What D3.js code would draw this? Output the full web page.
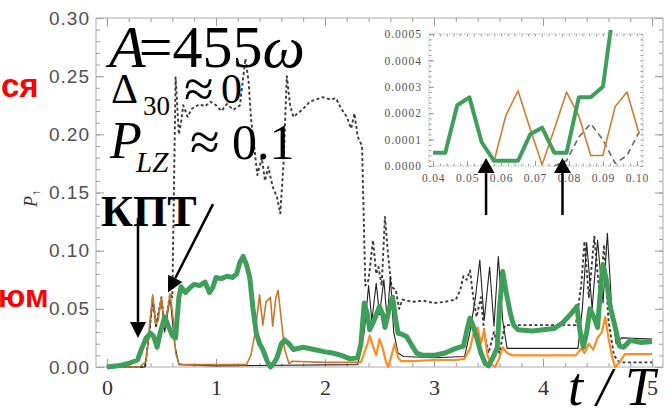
<!DOCTYPE html>
<html>
<head>
<meta charset="utf-8">
<script src="https://cdn.jsdelivr.net/npm/d3@7"></script>
<style>
  body { margin: 0; background: #fff; }
  svg { display: block; }
  .tk line { stroke: #9a9a9a; }
  .tk path { display: none; }
</style>
</head>
<body>
<svg id="chart" width="672" height="408"></svg>
<script>
// ---- main panel, [t/T, P] ----
const greenMain = [
  [0,0],[0.1,0.001],[0.2,0.003],[0.28,0.006],[0.32,0.016],[0.36,0.025],[0.4,0.029],[0.43,0.026],
  [0.46,0.017],[0.49,0.03],[0.53,0.043],[0.56,0.036],[0.6,0.027],[0.63,0.025],[0.66,0.06],[0.68,0.069],
  [0.72,0.064],[0.76,0.068],[0.8,0.071],[0.85,0.07],[0.9,0.073],[0.94,0.064],[0.97,0.068],[1.0,0.077],
  [1.05,0.076],[1.1,0.078],[1.15,0.077],[1.19,0.08],[1.22,0.09],[1.25,0.095],[1.28,0.088],[1.31,0.077],
  [1.34,0.05],[1.37,0.029],[1.4,0.02],[1.43,0.015],[1.47,0.005],[1.5,0.0],[1.53,0.003],[1.56,0.008],
  [1.6,0.02],[1.63,0.023],[1.67,0.02],[1.71,0.015],[1.8,0.017],[1.9,0.015],[2.0,0.013],[2.07,0.012],
  [2.15,0.01],[2.23,0.007],[2.3,0.008],[2.33,0.02],[2.36,0.055],[2.39,0.045],[2.41,0.032],[2.45,0.04],
  [2.5,0.052],[2.53,0.045],[2.55,0.034],[2.59,0.05],[2.62,0.06],[2.65,0.04],[2.67,0.029],[2.71,0.028],
  [2.75,0.026],[2.8,0.018],[2.84,0.012],[2.9,0.01],[3.0,0.01],[3.1,0.012],[3.2,0.016],[3.27,0.018],
  [3.31,0.035],[3.33,0.042],[3.36,0.035],[3.39,0.026],[3.43,0.012],[3.47,0.003],[3.5,0.001],[3.54,0.008],
  [3.58,0.017],[3.6,0.05],[3.63,0.082],[3.66,0.065],[3.7,0.046],[3.73,0.036],[3.77,0.032],[3.9,0.031],
  [4.0,0.032],[4.1,0.033],[4.18,0.038],[4.25,0.045],[4.31,0.052],[4.34,0.03],[4.37,0.017],[4.4,0.03],
  [4.43,0.05],[4.47,0.042],[4.5,0.034],[4.53,0.07],[4.55,0.088],[4.58,0.075],[4.62,0.05],[4.66,0.035],
  [4.7,0.018],[4.74,0.017],[4.8,0.023],[4.9,0.021],[5.0,0.022]
];
const orangeEarly = [
  [0,0],[0.3,0],[0.36,0.005],[0.39,0.035],[0.42,0.062],[0.45,0.037],[0.47,0.04],[0.5,0.06],[0.53,0.034],
  [0.55,0.045],[0.58,0.063],[0.61,0.04],[0.63,0.012],[0.66,0.003],[0.7,0.002],[1.0,0.002],[1.28,0.002],
  [1.32,0.01],[1.36,0.03],[1.4,0.062],[1.43,0.036],[1.46,0.056],[1.5,0.06],[1.52,0.035],[1.55,0.06],
  [1.57,0.066],[1.6,0.04],[1.63,0.015],[1.67,0.003],[1.7,0.005],[2.0,0.004],[2.33,0.004]
];
const orangeLate = [
  [2.33,0.004],[2.36,0.012],[2.39,0.02],[2.41,0.027],[2.44,0.018],[2.47,0.01],[2.5,0.024],[2.53,0.016],
  [2.56,0.004],[2.58,0.0],[2.61,0.01],[2.64,0.02],[2.67,0.008],[2.7,0.005],[2.8,0.005],[3.0,0.006],
  [3.2,0.006],[3.28,0.007],[3.33,0.016],[3.36,0.028],[3.4,0.034],[3.43,0.02],[3.46,0.032],[3.49,0.01],
  [3.52,0.003],[3.56,0.0],[3.6,0.008],[3.63,0.017],[3.67,0.012],[3.72,0.01],[4.0,0.01],[4.3,0.01],
  [4.35,0.016],[4.38,0.012],[4.42,0.02],[4.46,0.015],[4.5,0.025],[4.54,0.03],[4.57,0.043],[4.6,0.025],
  [4.63,0.01],[4.66,0.0],[4.7,0.004],[4.75,0.011],[5.0,0.011]
];
const blackSolid = [
  [0,0],[0.35,0],[0.39,0.03],[0.42,0.058],[0.45,0.035],[0.5,0.057],[0.53,0.03],[0.58,0.06],[0.62,0.02],
  [0.66,0.002],[1.0,0.001],[2.3,0.002],[2.36,0.03],[2.4,0.07],[2.43,0.04],[2.47,0.072],[2.5,0.045],
  [2.54,0.075],[2.57,0.04],[2.6,0.078],[2.63,0.03],[2.67,0.012],[2.72,0.009],[3.0,0.008],[3.28,0.009],
  [3.33,0.03],[3.38,0.06],[3.42,0.092],[3.46,0.04],[3.51,0.086],[3.55,0.035],[3.59,0.095],[3.63,0.04],
  [3.67,0.016],[4.0,0.016],[4.32,0.016],[4.36,0.05],[4.4,0.107],[4.45,0.05],[4.5,0.109],[4.55,0.055],
  [4.59,0.115],[4.63,0.05],[4.67,0.02],[4.72,0.025],[5.0,0.024]
];
const blackDashed = [
  [0,0],[0.35,0],[0.39,0.03],[0.42,0.06],[0.45,0.035],[0.5,0.06],[0.53,0.035],[0.58,0.063],[0.6,0.06],
  [0.63,0.249],[0.66,0.2],[0.68,0.21],[0.7,0.225],[0.74,0.215],[0.78,0.222],[0.85,0.226],[0.9,0.224],
  [0.95,0.228],[1.0,0.225],[1.05,0.22],[1.1,0.226],[1.16,0.221],[1.22,0.225],[1.27,0.265],[1.3,0.245],
  [1.32,0.215],[1.35,0.19],[1.38,0.165],[1.42,0.18],[1.45,0.16],[1.48,0.172],[1.52,0.155],[1.56,0.146],
  [1.59,0.132],[1.62,0.175],[1.65,0.25],[1.68,0.225],[1.71,0.215],[1.75,0.218],[1.8,0.222],[1.86,0.228],
  [1.92,0.23],[1.98,0.232],[2.05,0.23],[2.1,0.231],[2.15,0.222],[2.2,0.215],[2.24,0.205],[2.27,0.218],
  [2.3,0.198],[2.34,0.19],[2.37,0.07],[2.4,0.075],[2.44,0.109],[2.47,0.08],[2.49,0.086],[2.52,0.07],
  [2.55,0.129],[2.58,0.095],[2.61,0.069],[2.65,0.066],[2.68,0.05],[2.71,0.058],[2.8,0.056],[2.9,0.057],
  [3.0,0.055],[3.1,0.056],[3.2,0.058],[3.24,0.066],[3.27,0.078],[3.3,0.075],[3.33,0.083],[3.36,0.06],
  [3.39,0.043],[3.43,0.06],[3.46,0.03],[3.5,0.012],[3.55,0.03],[3.6,0.012],[3.65,0.036],[4.0,0.036],
  [4.3,0.036],[4.35,0.07],[4.38,0.108],[4.42,0.06],[4.47,0.112],[4.52,0.06],[4.56,0.105],[4.6,0.04],
  [4.65,0.01],[4.7,0.004],[5.0,0.004]
];
const xTicks = [0, 1, 2, 3, 4, 5];
const yTicks = [0, 0.05, 0.10, 0.15, 0.20, 0.25, 0.30];

// ---- inset, t/T from 0.04 to 0.10 ----
const greenInset = [
  [0.04,0.00005],[0.0436,0.00005],[0.0471,0.00023],[0.0507,0.00026],[0.0543,0.00009],[0.0579,0.00002],
  [0.0614,0.00002],[0.065,0.00002],[0.0686,0.00012],[0.0721,0.000145],[0.0757,0.00005],[0.0793,0.00005],
  [0.0829,0.00026],[0.0864,0.00026],[0.09,0.0003],[0.0936,0.00064]
];
const orangeInset = [
  [0.0579,0.000015],[0.0614,0.00019],[0.065,0.000285],[0.0686,0.00014],[0.0721,0.000005],[0.0757,0.00014],
  [0.0793,0.00028],[0.0829,0.00019],[0.0864,0.00004],[0.09,0.00004],[0.0936,0.000225],[0.0971,0.00028],
  [0.1007,0.00012]
];
const dashedInset = [
  [0.0757,0.0],[0.0793,0.00002],[0.0829,0.00011],[0.0864,0.00016],[0.09,0.0001],[0.0936,0.00001],
  [0.0971,0.00004],[0.1007,0.00013]
];
const xTicksInset = [0.04, 0.05, 0.06, 0.07, 0.08, 0.09, 0.10];
const yTicksInset = [0, 0.0001, 0.0002, 0.0003, 0.0004, 0.0005];

// arrows: [tail, tip] in data units of their panel
const arrowsMain = [[[0.285, 0.128], [0.285, 0.025]], [[0.973, 0.140], [0.56, 0.064]]];
const arrowsInset = [[[0.0556, -0.000186], [0.0556, 0.00003]], [[0.0781, -0.000186], [0.0781, 0.00003]]];

const svg = d3.select("#chart");
const serif = "'Liberation Serif', 'Times New Roman', serif";
const sans = "'Liberation Sans', Arial, sans-serif";

const x = d3.scaleLinear().domain([-0.1, 5.1]).range([96, 663]);
const y = d3.scaleLinear().domain([0, 0.3]).range([367, 18]);

function draw_ticks(g, axis, values, size, tf) {
  g.call(axis.tickValues(values).tickSize(-size).tickFormat(tf || ""))
}

function draw_main_axes() {
  let ax = svg.append("g");
  draw_ticks(ax.append("g").attr("class", "tk").attr("transform", "translate(0,367)"),
    d3.axisBottom(x), d3.range(0, 5.01, 0.2), 4);
  draw_ticks(ax.append("g").attr("class", "tk").attr("transform", "translate(0,18)"),
    d3.axisTop(x), d3.range(0, 5.01, 0.2), 4);
  draw_ticks(ax.append("g").attr("class", "tk").attr("transform", "translate(0,18)"),
    d3.axisTop(x), xTicks, 8);
  draw_ticks(ax.append("g").attr("class", "tk").attr("transform", "translate(96,0)"),
    d3.axisLeft(y), d3.range(0, 0.301, 0.01), 4);
  draw_ticks(ax.append("g").attr("class", "tk").attr("transform", "translate(663,0)"),
    d3.axisRight(y), d3.range(0, 0.301, 0.01), 4);
  draw_ticks(ax.append("g").attr("class", "tk").attr("transform", "translate(663,0)"),
    d3.axisRight(y), yTicks, 8);

  let bx = ax.append("g").attr("class", "tk").attr("transform", "translate(0,367)")
    .call(d3.axisBottom(x).tickValues(xTicks).tickSize(-8).tickPadding(12).tickFormat(d3.format("d")));
  bx.selectAll("text").attr("font-family", serif).attr("font-size", 22).attr("fill", "#333");

  let ly = ax.append("g").attr("class", "tk").attr("transform", "translate(96,0)")
    .call(d3.axisLeft(y).tickValues(yTicks).tickSize(-8).tickPadding(6).tickFormat(d3.format(".2f")));
  ly.selectAll("text").attr("font-family", sans).attr("font-size", 19)
    .attr("letter-spacing", 1).attr("fill", "#505050");

  ax.append("rect")
    .attr("x", 96).attr("y", 18).attr("width", 567).attr("height", 349)
    .attr("fill", "none").attr("stroke", "#aaa").attr("stroke-width", 1);

  // y label P with spin arrow
  let yl = svg.append("text")
    .attr("transform", "translate(37,207) rotate(-90)")
    .attr("font-family", serif).attr("font-size", 18).attr("fill", "#333");
  yl.append("tspan").attr("font-style", "italic").text("P");
  yl.append("tspan").attr("font-size", 12).attr("dy", 3).text("↑");
}

function draw_lines(g, xs, ys, series) {
  let line = d3.line().x(d => xs(d[0])).y(d => ys(d[1]));
  series.forEach(s => {
    g.append("path")
      .datum(s.data)
      .attr("d", line)
      .attr("fill", "none")
      .attr("stroke", s.color)
      .attr("stroke-width", s.width)
      .attr("stroke-linejoin", "round")
      .attr("stroke-dasharray", s.dash || null);
  });
}

function draw_arrow(g, tail, tip, head, headW) {
  let [x1, y1] = tail, [x2, y2] = tip;
  let a = Math.atan2(y2 - y1, x2 - x1);
  let bx = x2 - head * Math.cos(a), by = y2 - head * Math.sin(a);
  g.append("line").attr("x1", x1).attr("y1", y1).attr("x2", bx).attr("y2", by)
    .attr("stroke", "#000").attr("stroke-width", 2.5);
  let px = -Math.sin(a) * headW / 2, py = Math.cos(a) * headW / 2;
  g.append("polygon")
    .attr("points", [[x2, y2], [bx + px, by + py], [bx - px, by - py]].map(p => p.join(",")).join(" "))
    .attr("fill", "#000");
}

function draw_inset() {
  let xi = d3.scaleLinear().domain([0.0388, 0.1018]).range([429, 643]);
  let yi = d3.scaleLinear().domain([0, 0.0005]).range([166, 34]);
  let g = svg.append("g");

  svg.append("clipPath").attr("id", "insetclip").append("rect")
    .attr("x", 429).attr("y", 30).attr("width", 214).attr("height", 137);

  draw_lines(g.append("g").attr("clip-path", "url(#insetclip)"), xi, yi, [
    {data: dashedInset, color: "#666", width: 1.6, dash: "6,4"},
    {data: orangeInset, color: "#d27d2c", width: 1.6},
    {data: greenInset, color: "#3f9f5a", width: 4}
  ]);

  draw_ticks(g.append("g").attr("class", "tk").attr("transform", "translate(0,166)"),
    d3.axisBottom(xi), d3.range(0.04, 0.1001, 0.002), 2.5);
  draw_ticks(g.append("g").attr("class", "tk").attr("transform", "translate(0,34)"),
    d3.axisTop(xi), d3.range(0.04, 0.1001, 0.002), 2.5);
  draw_ticks(g.append("g").attr("class", "tk").attr("transform", "translate(643,0)"),
    d3.axisRight(yi), d3.range(0, 0.00051, 0.00002), 2.5);
  draw_ticks(g.append("g").attr("class", "tk").attr("transform", "translate(429,0)"),
    d3.axisLeft(yi), d3.range(0, 0.00051, 0.00002), 2.5);

  let bx = g.append("g").attr("class", "tk").attr("transform", "translate(0,166)")
    .call(d3.axisBottom(xi).tickValues(xTicksInset).tickSize(-5).tickPadding(8).tickFormat(d3.format(".2f")));
  bx.selectAll("text").attr("font-family", serif).attr("font-size", 11.5)
    .attr("letter-spacing", 0.8).attr("fill", "#555");
  let ly = g.append("g").attr("class", "tk").attr("transform", "translate(429,0)")
    .call(d3.axisLeft(yi).tickValues(yTicksInset).tickSize(-5).tickPadding(7).tickFormat(d3.format(".4f")));
  ly.selectAll("text").attr("font-family", serif).attr("font-size", 11.5)
    .attr("letter-spacing", 1).attr("fill", "#555");

  g.append("rect").attr("x", 429).attr("y", 34).attr("width", 214).attr("height", 132)
    .attr("fill", "none").attr("stroke", "#999").attr("stroke-dasharray", "1,1.5");

  arrowsInset.forEach(([t0, t1]) =>
    draw_arrow(svg, [xi(t0[0]), yi(t0[1])], [xi(t1[0]), yi(t1[1])], 15, 17));
}

function draw_labels() {
  let a = svg.append("text").attr("x", 109).attr("y", 67)
    .attr("font-family", serif).attr("font-size", 60).attr("fill", "#000");
  a.append("tspan").attr("font-style", "italic").text("A");
  a.append("tspan").attr("dx", -7).text("=455");
  a.append("tspan").attr("font-style", "italic").text("ω");

  let d = svg.append("text").attr("font-family", serif).attr("fill", "#000");
  d.append("tspan").attr("x", 111).attr("y", 103).attr("font-size", 42).text("Δ");
  d.append("tspan").attr("x", 143).attr("y", 115).attr("font-size", 27).text("30");
  d.append("tspan").attr("x", 184).attr("y", 107).attr("font-size", 54).text("≈");
  d.append("tspan").attr("x", 221).attr("y", 103).attr("font-size", 42).text("0");

  let p = svg.append("text").attr("font-family", serif).attr("fill", "#000");
  p.append("tspan").attr("x", 110).attr("y", 158).attr("font-size", 52).attr("font-style", "italic").text("P");
  p.append("tspan").attr("x", 136).attr("y", 172).attr("font-size", 29).attr("font-style", "italic").text("LZ");
  p.append("tspan").attr("x", 190).attr("y", 160).attr("font-size", 54).text("≈");
  p.append("tspan").attr("x", 232).attr("y", 159).attr("font-size", 50).text("0.1");

  svg.append("text").attr("x", 101).attr("y", 226)
    .attr("font-family", serif).attr("font-size", 44).attr("font-weight", "bold").text("КПТ");

  svg.append("text").attr("x", 568).attr("y", 405)
    .attr("font-family", serif).attr("font-size", 54).attr("font-style", "italic").text("t / T");

  svg.append("text").attr("x", 1).attr("y", 97)
    .attr("font-family", sans).attr("font-size", 33).attr("font-weight", "bold")
    .attr("fill", "#ff0000").text("ся");
  svg.append("text").attr("x", -2).attr("y", 307)
    .attr("font-family", sans).attr("font-size", 32).attr("font-weight", "bold")
    .attr("fill", "#ff0000").text("юм");
}

draw_main_axes();
draw_lines(svg.append("g"), x, y, [
  {data: blackDashed, color: "#3c3c3c", width: 1.9, dash: "3,2.5"},
  {data: blackSolid, color: "#222", width: 1.1},
  {data: orangeEarly, color: "#c8782c", width: 1.6},
  {data: orangeLate, color: "#fb8f25", width: 2.2},
  {data: greenMain, color: "#3f9f5a", width: 5}
]);
draw_inset();
arrowsMain.forEach(([t0, t1]) => draw_arrow(svg, [x(t0[0]), y(t0[1])], [x(t1[0]), y(t1[1])], 16, 16));
draw_labels();
</script>
</body>
</html>
